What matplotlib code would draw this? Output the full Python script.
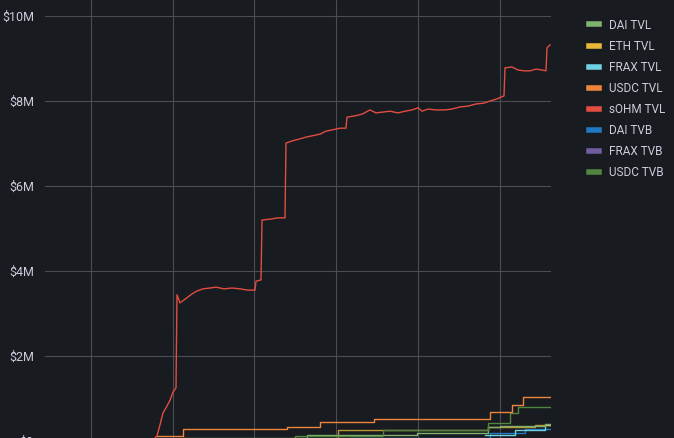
import matplotlib
matplotlib.use("Agg")
import matplotlib.pyplot as plt
from matplotlib.lines import Line2D

# x = day index, y = value in $M
sohm_x = [110, 112, 115, 118, 121, 125, 128, 131, 132, 135, 139, 143, 147, 152, 158, 165,
          171, 179, 187, 195, 203, 210, 211, 216, 217, 225, 233, 240, 241, 247, 255, 261,
          267, 275, 281, 287, 295, 301, 302, 310, 317, 325, 331, 338, 345, 353, 360, 367,
          373, 377, 383, 391, 400, 407, 415, 423, 431, 439, 445, 452, 459, 460, 467, 473,
          479, 485, 491, 497, 501, 502, 505]
sohm_y = [0.07, 0.12, 0.38, 0.66, 0.78, 0.96, 1.15, 1.25, 3.44, 3.25, 3.32, 3.39, 3.46, 3.53,
          3.58, 3.60, 3.62, 3.58, 3.60, 3.58, 3.55, 3.55, 3.76, 3.79, 5.20, 5.22, 5.25, 5.25,
          7.01, 7.06, 7.11, 7.15, 7.18, 7.22, 7.29, 7.32, 7.36, 7.36, 7.62, 7.65, 7.69, 7.79,
          7.72, 7.74, 7.76, 7.72, 7.76, 7.79, 7.84, 7.76, 7.81, 7.79, 7.79, 7.81, 7.86, 7.88,
          7.93, 7.95, 8.00, 8.05, 8.12, 8.78, 8.80, 8.73, 8.71, 8.71, 8.75, 8.73, 8.71, 9.25,
          9.32]

usdc_tvl_x = [112, 138, 242, 275, 329, 445, 467, 478, 506]
usdc_tvl_y = [0.12, 0.28, 0.33, 0.44, 0.52, 0.68, 0.85, 1.03, 1.04]

usdc_tvb_x = [130, 250, 338, 443, 465, 473, 506]
usdc_tvb_y = [0.05, 0.12, 0.26, 0.42, 0.66, 0.80, 0.80]

dai_tvl_x = [138, 262, 372, 443, 455, 500, 506]
dai_tvl_y = [0.08, 0.15, 0.20, 0.32, 0.36, 0.40, 0.40]

eth_tvl_x = [140, 293, 443, 490, 506]
eth_tvl_y = [0.05, 0.27, 0.32, 0.38, 0.38]

frax_tvl_x = [440, 470, 500, 506]
frax_tvl_y = [0.15, 0.25, 0.38, 0.40]

dai_tvb_x = [305, 445, 480, 506]
dai_tvb_y = [0.08, 0.18, 0.28, 0.28]

frax_tvb_x = [300, 506]
frax_tvb_y = [0.02, 0.02]

names = ["DAI TVL", "ETH TVL", "FRAX TVL", "USDC TVL", "sOHM TVL", "DAI TVB", "FRAX TVB", "USDC TVB"]
colors = ["#7EB26D", "#EAB839", "#6ED0E0", "#EF843C", "#E24D42", "#1F78C1", "#705DA0", "#508642"]

bg = "#181b1f"
txt = "#ccccdc"

fig = plt.figure(figsize=(6.74, 4.38), dpi=100, facecolor=bg)
# axes runs a bit past the bottom edge, like the cropped screenshot
ax = fig.add_axes([45 / 674, -7 / 438, 506 / 674, 445 / 438], facecolor=bg)

ax.plot(frax_tvb_x, frax_tvb_y, color=colors[6], lw=1, drawstyle="steps-post")
ax.plot(dai_tvb_x, dai_tvb_y, color=colors[5], lw=1, drawstyle="steps-post")
ax.plot(frax_tvl_x, frax_tvl_y, color=colors[2], lw=1, drawstyle="steps-post")
ax.plot(eth_tvl_x, eth_tvl_y, color=colors[1], lw=1, drawstyle="steps-post", alpha=0.8)
ax.plot(dai_tvl_x, dai_tvl_y, color=colors[0], lw=1, drawstyle="steps-post")
ax.plot(usdc_tvb_x, usdc_tvb_y, color=colors[7], lw=1, drawstyle="steps-post")
ax.plot(usdc_tvl_x, usdc_tvl_y, color=colors[3], lw=1, drawstyle="steps-post")
ax.plot(sohm_x, sohm_y, color=colors[4], lw=1)

ax.set_xlim(0, 506)
ax.set_ylim(-4 / 42.5, 10 + 16 / 42.5)
ax.set_xticks([46, 128, 209, 291, 373, 455])
ax.set_xticklabels([])
ax.set_yticks([0, 2, 4, 6, 8, 10])
ax.set_yticklabels(["$0", "$2M", "$4M", "$6M", "$8M", "$10M"])
ax.tick_params(axis="y", length=0, pad=8, labelcolor=txt, labelsize=9)
ax.tick_params(axis="x", length=0)
for lbl in ax.get_yticklabels():
    lbl.set_family("Roboto")
ax.grid(True, color="#4a4d53", lw=0.8)
ax.set_axisbelow(True)
for s in ax.spines.values():
    s.set_visible(False)

handles = [Line2D([0], [0], color=c, lw=4) for c in colors]
leg = fig.legend(handles, names, loc="upper left", bbox_to_anchor=(578 / 674, 1 - 8 / 438),
                 frameon=False, handlelength=0.9, handletextpad=0.8, labelspacing=0.68,
                 prop={"family": "Roboto", "size": 8.5})
for t in leg.get_texts():
    t.set_color(txt)

fig.savefig("out.png", dpi=100, facecolor=bg)
